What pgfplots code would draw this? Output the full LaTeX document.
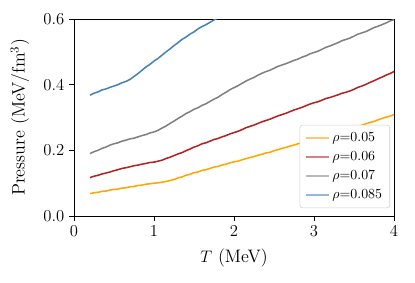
\documentclass[border=0pt]{standalone}
\usepackage{pgfplots}
\pgfplotsset{compat=1.18}
\definecolor{mporange}{RGB}{255,165,0}
\definecolor{mpred}{RGB}{178,34,34}
\definecolor{mpgray}{RGB}{128,128,128}
\definecolor{mpblue}{RGB}{70,130,180}
\definecolor{lgorange}{RGB}{255,200,110}
\definecolor{lgred}{RGB}{212,130,130}
\definecolor{lggray}{RGB}{185,185,185}
\definecolor{lgblue}{RGB}{150,185,215}
\begin{document}
\begin{tikzpicture}
\path[use as bounding box] (-53.3pt,-48.2pt) rectangle (245.5pt,155.5pt);
\begin{axis}[
  at={(0,0)}, anchor=south west,
  scale only axis, width=230.4pt, height=141.8pt,
  xmin=0, xmax=4, ymin=0, ymax=0.6,
  xtick={0,1,2,3,4}, ytick={0,0.2,0.4,0.6},
  yticklabel style={/pgf/number format/fixed,/pgf/number format/precision=1,/pgf/number format/fixed zerofill},
  tick label style={font=\fontsize{12}{14}\selectfont},
  tick align=outside, xtick pos=bottom, ytick pos=left,
  major tick length=3.5pt,
  tick style={black, line width=0.6pt},
  axis line style={line width=0.6pt},
  xlabel={$T$ (MeV)}, ylabel={Pressure (MeV/fm$^3$)},
  label style={font=\fontsize{13}{15}\selectfont},
  x label style={at={(axis description cs:0.5,-0.213)}, anchor=center},
  y label style={at={(axis description cs:-0.169,0.5)}, anchor=center},
  legend style={at={(axis cs:3.95,0.024)}, anchor=south east, draw=black!18, rounded corners=2pt, font=\fontsize{10}{12}\selectfont, fill=white, row sep=1.6pt, inner xsep=3.5pt, inner ysep=3pt},
  legend cell align=left,
  legend image code/.code={\draw[#1] (0pt,0pt) -- (16.6pt,0pt);},
  clip=true,
]
\addlegendimage{draw=lgorange, line width=1.4pt}
\addlegendentry{$\rho$=0.05}
\addlegendimage{draw=lgred, line width=1.4pt}
\addlegendentry{$\rho$=0.06}
\addlegendimage{draw=lggray, line width=1.4pt}
\addlegendentry{$\rho$=0.07}
\addlegendimage{draw=lgblue, line width=1.4pt}
\addlegendentry{$\rho$=0.085}
% rho=0.05
\addplot[mporange, line width=1.1pt, forget plot] coordinates {
(0.2,0.068)(0.25,0.071)(0.3,0.072)(0.35,0.075)(0.4,0.076)(0.45,0.079)(0.5,0.081)(0.55,0.082)(0.6,0.085)(0.65,0.086)(0.7,0.089)(0.75,0.090)(0.8,0.093)(0.85,0.094)(0.9,0.097)(0.95,0.098)(1.0,0.100)(1.05,0.101)(1.1,0.103)(1.15,0.105)(1.2,0.108)(1.25,0.111)(1.3,0.116)(1.35,0.119)(1.4,0.124)(1.45,0.127)(1.5,0.132)(1.55,0.134)(1.6,0.139)(1.65,0.141)(1.7,0.145)(1.75,0.149)(1.8,0.151)(1.85,0.155)(1.9,0.158)(1.95,0.162)(2.0,0.165)(2.05,0.167)(2.1,0.171)(2.15,0.175)(2.2,0.178)(2.25,0.181)(2.3,0.185)(2.35,0.188)(2.4,0.192)(2.45,0.194)(2.5,0.199)(2.55,0.202)(2.6,0.206)(2.65,0.209)(2.7,0.213)(2.75,0.216)(2.8,0.220)(2.85,0.223)(2.9,0.227)(2.95,0.231)(3.0,0.234)(3.05,0.237)(3.1,0.241)(3.15,0.245)(3.2,0.248)(3.25,0.251)(3.3,0.255)(3.35,0.259)(3.4,0.262)(3.45,0.265)(3.5,0.270)(3.55,0.273)(3.6,0.277)(3.65,0.281)(3.7,0.285)(3.75,0.288)(3.8,0.293)(3.85,0.297)(3.9,0.301)(3.95,0.304)(4.0,0.309)
};
% rho=0.06
\addplot[mpred, line width=1.1pt, forget plot] coordinates {
(0.2,0.117)(0.25,0.121)(0.3,0.124)(0.35,0.128)(0.4,0.131)(0.45,0.134)(0.5,0.138)(0.55,0.141)(0.6,0.145)(0.65,0.147)(0.7,0.150)(0.75,0.153)(0.8,0.155)(0.85,0.158)(0.9,0.160)(0.95,0.163)(1.0,0.164)(1.05,0.167)(1.1,0.170)(1.15,0.175)(1.2,0.179)(1.25,0.184)(1.3,0.189)(1.35,0.193)(1.4,0.199)(1.45,0.204)(1.5,0.210)(1.55,0.214)(1.6,0.220)(1.65,0.223)(1.7,0.228)(1.75,0.233)(1.8,0.236)(1.85,0.241)(1.9,0.245)(1.95,0.250)(2.0,0.254)(2.05,0.258)(2.1,0.263)(2.15,0.269)(2.2,0.273)(2.25,0.277)(2.3,0.282)(2.35,0.287)(2.4,0.291)(2.45,0.295)(2.5,0.300)(2.55,0.305)(2.6,0.309)(2.65,0.313)(2.7,0.318)(2.75,0.323)(2.8,0.327)(2.85,0.331)(2.9,0.336)(2.95,0.341)(3.0,0.345)(3.05,0.348)(3.1,0.353)(3.15,0.358)(3.2,0.361)(3.25,0.365)(3.3,0.369)(3.35,0.374)(3.4,0.377)(3.45,0.381)(3.5,0.386)(3.55,0.392)(3.6,0.396)(3.65,0.401)(3.7,0.407)(3.75,0.412)(3.8,0.418)(3.85,0.423)(3.9,0.429)(3.95,0.434)(4.0,0.440)
};
% rho=0.07
\addplot[mpgray, line width=1.1pt, forget plot] coordinates {
(0.2,0.190)(0.25,0.196)(0.3,0.200)(0.35,0.206)(0.4,0.210)(0.45,0.216)(0.5,0.220)(0.55,0.223)(0.6,0.228)(0.65,0.231)(0.7,0.235)(0.75,0.237)(0.8,0.241)(0.85,0.245)(0.9,0.248)(0.95,0.253)(1.0,0.256)(1.05,0.261)(1.1,0.268)(1.15,0.274)(1.2,0.282)(1.25,0.289)(1.3,0.297)(1.35,0.304)(1.4,0.312)(1.45,0.318)(1.5,0.325)(1.55,0.330)(1.6,0.337)(1.65,0.342)(1.7,0.349)(1.75,0.356)(1.8,0.362)(1.85,0.370)(1.9,0.377)(1.95,0.385)(2.0,0.391)(2.05,0.397)(2.1,0.404)(2.15,0.411)(2.2,0.417)(2.25,0.422)(2.3,0.429)(2.35,0.435)(2.4,0.440)(2.45,0.444)(2.5,0.450)(2.55,0.456)(2.6,0.460)(2.65,0.464)(2.7,0.469)(2.75,0.474)(2.8,0.478)(2.85,0.484)(2.9,0.488)(2.95,0.494)(3.0,0.498)(3.05,0.502)(3.1,0.508)(3.15,0.514)(3.2,0.518)(3.25,0.523)(3.3,0.528)(3.35,0.534)(3.4,0.538)(3.45,0.542)(3.5,0.548)(3.55,0.554)(3.6,0.558)(3.65,0.562)(3.7,0.568)(3.75,0.574)(3.8,0.578)(3.85,0.583)(3.9,0.588)(3.95,0.594)(4.0,0.598)
};
% rho=0.085
\addplot[mpblue, line width=1.1pt, forget plot] coordinates {
(0.2,0.368)(0.25,0.374)(0.3,0.378)(0.35,0.384)(0.4,0.387)(0.45,0.392)(0.5,0.396)(0.55,0.400)(0.6,0.406)(0.65,0.410)(0.7,0.416)(0.75,0.425)(0.8,0.434)(0.85,0.444)(0.9,0.454)(0.95,0.462)(1.0,0.472)(1.05,0.480)(1.1,0.490)(1.15,0.500)(1.2,0.509)(1.25,0.519)(1.3,0.528)(1.35,0.538)(1.4,0.545)(1.45,0.554)(1.5,0.561)(1.55,0.570)(1.6,0.577)(1.65,0.583)(1.7,0.590)(1.75,0.597)(1.8,0.604)(1.85,0.610)
};
\end{axis}
\end{tikzpicture}
\end{document}
